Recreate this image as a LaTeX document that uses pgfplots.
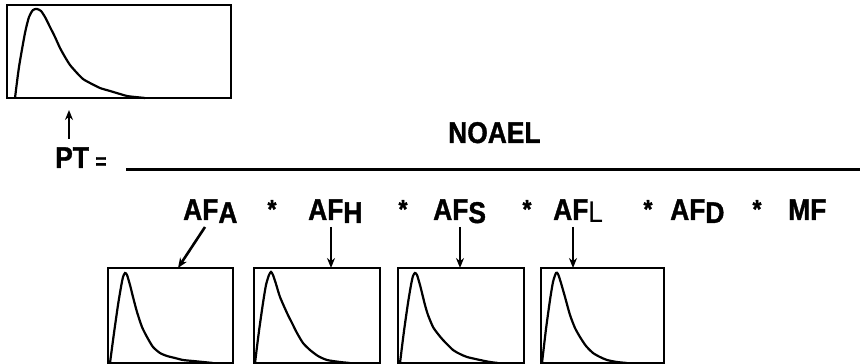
\documentclass[border=0pt]{standalone}
\usepackage{fontspec}
\setmainfont{Liberation Sans}
\newfontfamily\heavy{Liberation Sans Bold}[FakeStretch=0.88, FakeBold=1.2]
\newfontfamily\light{Liberation Sans}[FakeStretch=0.88]
\usepackage{pgfplots}
\pgfplotsset{compat=1.18}
\usetikzlibrary{arrows.meta}
\begin{document}
\begin{tikzpicture}[x=1pt,y=1pt]
\useasboundingbox (0,0) rectangle (860,364);
\pgfplotsset{mini/.style={scale only axis, axis lines=box, ticks=none,
  xmin=0, ymin=0, anchor=south west, clip=false,
  axis line style={line width=2.2pt, line cap=rect}}}
\tikzset{curve/.style={black, line width=2.2pt, no marks, smooth, tension=0.4},
  arr/.style={black, line width=2.6pt, -{Stealth[length=10pt,width=8pt]}}}
% top distribution
\begin{axis}[mini, at={(7pt,266pt)}, width=224pt, height=93pt, xmax=224, ymax=93]
\addplot[curve] coordinates {(8,0) (12,31) (18,65) (22,81) (26,88) (30,89) (34,87) (38,81) (43,71) (48,61) (53,50) (58,41) (63,33) (70,25) (76,19) (83,15) (93,10) (103,7) (113,4) (120,2) (128,1) (138,0)};
\end{axis}
% bottom distributions
\begin{axis}[mini, at={(108pt,1pt)}, width=125pt, height=95pt, xmax=125, ymax=95]
\addplot[curve] coordinates {(2,0) (6,30) (10,58) (13,76) (15,86) (17,90) (19,88) (22,78) (25,66) (29,51) (34,36) (39,26) (45,16) (52,10) (59,7) (67,5) (75,3) (85,2) (95,1) (105,0)};
\end{axis}
\begin{axis}[mini, at={(254pt,1pt)}, width=126pt, height=95pt, xmax=126, ymax=95]
\addplot[curve] coordinates {(1,0) (5,32) (9,60) (12,78) (15,88) (17,91) (19,88) (22,79) (26,66) (33,50) (38,40) (43,30) (49,20) (56,13) (64,7) (73,3) (86,1) (96,0)};
\end{axis}
\begin{axis}[mini, at={(398pt,1pt)}, width=126pt, height=95pt, xmax=126, ymax=95]
\addplot[curve] coordinates {(2,0) (6,32) (10,60) (13,78) (15,87) (17,90) (19,88) (22,78) (27,58) (30,48) (35,36) (40,29) (45,23) (55,13) (62,9) (69,6) (82,3) (92,1) (100,0)};
\end{axis}
\begin{axis}[mini, at={(541pt,1pt)}, width=123pt, height=95pt, xmax=123, ymax=95]
\addplot[curve] coordinates {(1,0) (5,34) (9,63) (12,81) (15,90) (17,89) (20,80) (24,66) (29,48) (34,35) (39,26) (45,17) (52,10) (59,6) (66,3) (76,1) (86,0)};
\end{axis}
% arrows
\draw[arr] (69,225) -- (69,254);
\draw[arr] (205,137) -- (178,96);
\draw[arr] (331,137) -- (331,96);
\draw[arr] (460,137) -- (460,96);
\draw[arr] (573,137) -- (573,96);
% fraction
\draw[line width=3pt] (126,194) -- (860,194);
\def\bigf{\fontsize{30}{33}\selectfont\heavy}
\node[anchor=base west, inner sep=0pt] at (55,196) {\bigf PT};
\node[anchor=center, inner sep=0pt] at (101,201) {\fontsize{22}{24}\selectfont\heavy =};
\node[anchor=base west, inner sep=0pt] at (448,221) {\bigf NOAEL};
\node[anchor=base west, inner sep=0pt] at (183,144) {\bigf AF\raisebox{-3pt}{A}};
\node[anchor=base west, inner sep=0pt] at (308,144) {\bigf AF\raisebox{-3pt}{H}};
\node[anchor=base west, inner sep=0pt] at (433,144) {\bigf AF\raisebox{-3pt}{S}};
\node[anchor=base west, inner sep=0pt] at (553,144) {\bigf AF\raisebox{-3pt}{\fontsize{30}{33}\selectfont\light L}};
\node[anchor=base west, inner sep=0pt] at (670,144) {\bigf AF\raisebox{-3pt}{D}};
\node[anchor=base west, inner sep=0pt] at (788,144) {\bigf MF};
\foreach \sx in {272,403,527,648,757}
  \node[anchor=base, inner sep=0pt] at (\sx,146) {\fontsize{26}{28}\selectfont\heavy *};
\end{tikzpicture}
\end{document}
